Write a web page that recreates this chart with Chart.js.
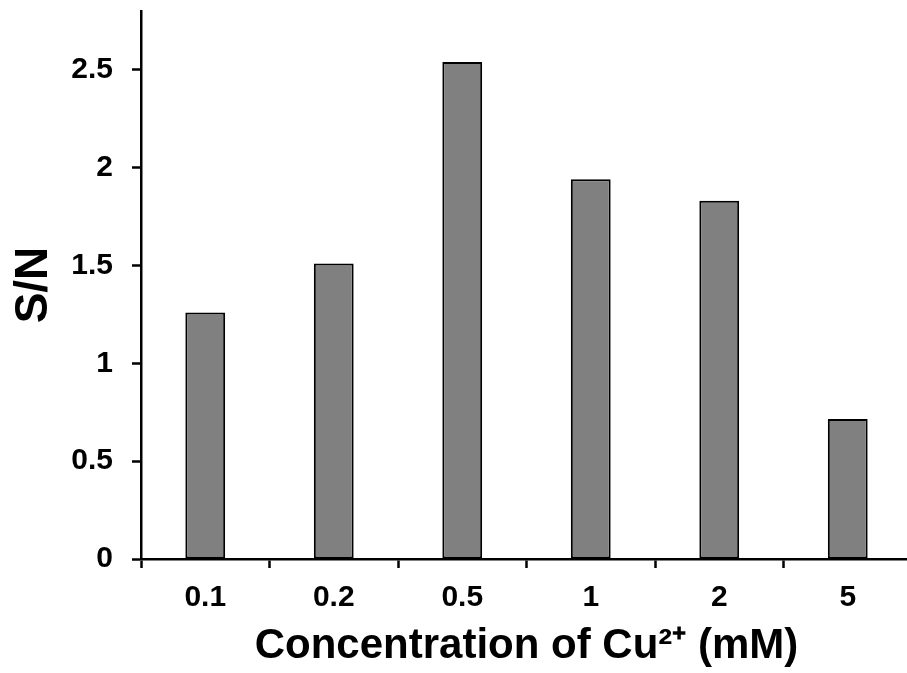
<!DOCTYPE html>
<html>
<head>
    <title>S/N vs Cu2+ concentration</title>
    <script src="https://cdn.jsdelivr.net/npm/chart.js@4.4.0/dist/chart.umd.min.js"></script>
    <style>
        html, body {
            margin: 0;
            padding: 0;
            background: #ffffff;
            overflow: hidden;
        }
        .wrap {
            width: 912px;
            height: 673px;
        }
    </style>
</head>
<body>
    <div class="wrap">
        <canvas id="chart" width="912" height="673"></canvas>
    </div>

    <script>
        // Data
        const concentrations = ['0.1', '0.2', '0.5', '1', '2', '5'];
        const snValues = [1.26, 1.51, 2.54, 1.94, 1.83, 0.715];
        const yTicks = [0, 0.5, 1, 1.5, 2, 2.5];

        const FONT = "'Liberation Sans', Arial, sans-serif";

        const ctx = document.getElementById('chart').getContext('2d');

        new Chart(ctx, {
            type: 'bar',
            data: {
                labels: concentrations,
                datasets: [{
                    data: snValues,
                    backgroundColor: '#808080',
                    borderColor: '#000000',
                    borderWidth: 2,
                    borderSkipped: false,
                    barPercentage: 0.31,
                    categoryPercentage: 1.0
                }]
            },
            options: {
                responsive: false,
                animation: false,
                layout: {
                    padding: { top: 11, right: 0, bottom: 0, left: 0 }
                },
                plugins: {
                    legend: { display: false },
                    tooltip: { enabled: false }
                },
                scales: {
                    x: {
                        grid: {
                            display: true,
                            drawOnChartArea: false,
                            drawTicks: true,
                            tickLength: 9,
                            tickWidth: 2.5,
                            tickColor: '#000000',
                            offset: true
                        },
                        border: { display: true, color: '#000000', width: 2.5 },
                        ticks: {
                            color: '#000000',
                            padding: 12,
                            font: { family: FONT, size: 30, weight: 'bold' }
                        },
                        title: {
                            display: true,
                            text: 'Concentration of Cu²⁺ (mM)',
                            color: '#000000',
                            padding: { top: 0, bottom: 1 },
                            font: { family: FONT, size: 42, weight: 'bold' }
                        },
                        afterFit: s => {
                            s.height = 114;
                            s.paddingLeft = 0;
                            s.paddingRight = 0;
                        }
                    },
                    y: {
                        min: 0,
                        max: 2.8,
                        grid: {
                            display: true,
                            drawOnChartArea: false,
                            drawTicks: true,
                            tickLength: 9,
                            tickWidth: 2.5,
                            tickColor: '#000000'
                        },
                        border: { display: true, color: '#000000', width: 2.5 },
                        afterBuildTicks: s => {
                            s.ticks = yTicks.map(v => ({ value: v }));
                        },
                        ticks: {
                            color: '#000000',
                            padding: 19,
                            font: { family: FONT, size: 30, weight: 'bold' },
                            callback: v => String(v)
                        },
                        title: {
                            display: true,
                            text: 'S/N',
                            color: '#000000',
                            padding: { top: 7, bottom: 0 },
                            font: { family: FONT, size: 46, weight: 'bold' }
                        },
                        afterFit: s => {
                            s.width = 141;
                            s.paddingTop = 0;
                            s.paddingBottom = 0;
                        }
                    }
                }
            }
        });
    </script>
</body>
</html>
